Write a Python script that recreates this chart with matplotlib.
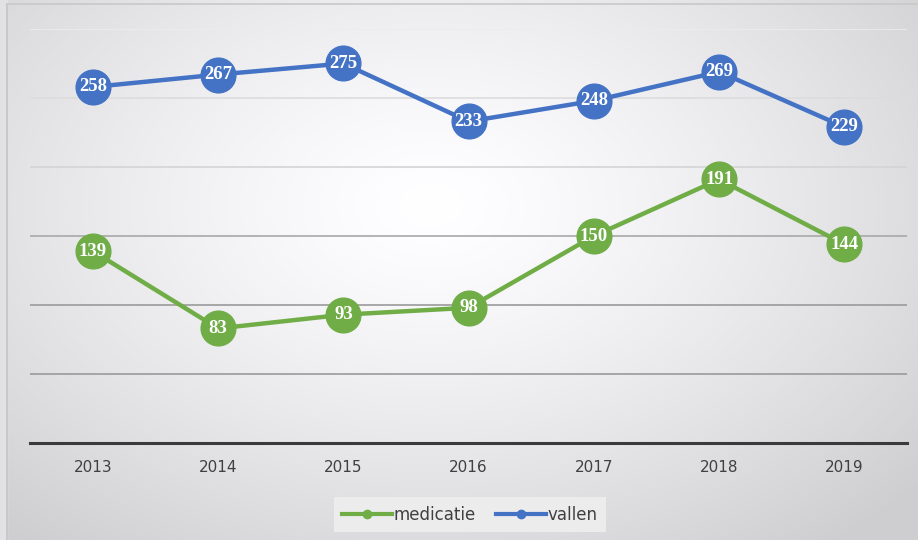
import numpy as np
import matplotlib.pyplot as plt

years = ['2013', '2014', '2015', '2016', '2017', '2018', '2019']
medicatie = [139, 83, 93, 98, 150, 191, 144]
vallen = [258, 267, 275, 233, 248, 269, 229]

blue = '#4472C4'
green = '#70AD47'

fig = plt.figure(figsize=(9.18, 5.4), dpi=100)

# radial gradient background, bright in the upper middle
bg = fig.add_axes([0, 0, 1, 1])
xx, yy = np.meshgrid(np.linspace(0, 1, 400), np.linspace(0, 1, 240))
r = np.sqrt(((xx - 0.47) / 0.7) ** 2 + ((yy - 0.62) / 0.8) ** 2)
shade = 1.0 - 0.19 * np.clip(r, 0, 1) ** 1.3
bg.imshow(np.dstack([shade, shade, shade * 1.01]).clip(0, 1), extent=[0, 1, 0, 1],
          aspect='auto', origin='lower')
bg.axvspan(0, 0.008, color='#e2e2e4')
bg.plot([0.008, 0.008], [0, 0.993], color='#c4c4c4', lw=1.2)
bg.plot([0.008, 1], [0.993, 0.993], color='#c8c8c8', lw=1.2)
bg.set_xlim(0, 1)
bg.set_ylim(0, 1)
bg.axis('off')

ax = fig.add_axes([0.033, 0.1796, 0.955, 0.7667])
ax.patch.set_alpha(0)
x = np.arange(len(years))

grid_cols = {50: '#9a9a9a', 100: '#9a9a9a', 150: '#a8a8a8', 200: '#d4d4d4', 250: '#dcdcdc', 300: '#ececec'}
for v, c in grid_cols.items():
    ax.axhline(v, color=c, lw=1.2, zorder=1)
ax.axhline(0, color='#3a3a3a', lw=2.2, zorder=2, clip_on=False)

lab_font = dict(color='white', fontweight='bold', fontsize=13.5,
                family=['Liberation Serif', 'DejaVu Serif'], ha='center', va='center')

ax.plot(x, medicatie, color=green, lw=3.2, marker='o', ms=25, zorder=3, label='medicatie')
ax.plot(x, vallen, color=blue, lw=3.2, marker='o', ms=25, zorder=3, label='vallen')
for i in range(len(years)):
    ax.text(x[i], medicatie[i], str(medicatie[i]), zorder=4, **lab_font)
    ax.text(x[i], vallen[i], str(vallen[i]), zorder=4, **lab_font)

ax.set_xlim(-0.5, 6.5)
ax.set_ylim(0, 300)
ax.set_xticks(x)
ax.set_xticklabels(years, fontsize=11, color='#404040')
ax.tick_params(axis='x', length=0, pad=12)
ax.set_yticks([])
for s in ax.spines.values():
    s.set_visible(False)

h1, = plt.plot([], [], color=green, lw=3, marker='o', ms=6)
h2, = plt.plot([], [], color=blue, lw=3, marker='o', ms=6)
leg = fig.legend([h1, h2], ['medicatie', 'vallen'], loc='center', bbox_to_anchor=(0.512, 0.047),
                 ncol=2, frameon=True, fontsize=12, handlelength=3, handletextpad=0.1,
                 columnspacing=1.2, fancybox=False, borderpad=0.5)
leg.get_frame().set_facecolor('#ececec')
leg.get_frame().set_edgecolor('none')
leg.get_frame().set_alpha(1)
for t in leg.get_texts():
    t.set_color('#404040')

plt.savefig('out.png', dpi=100)
